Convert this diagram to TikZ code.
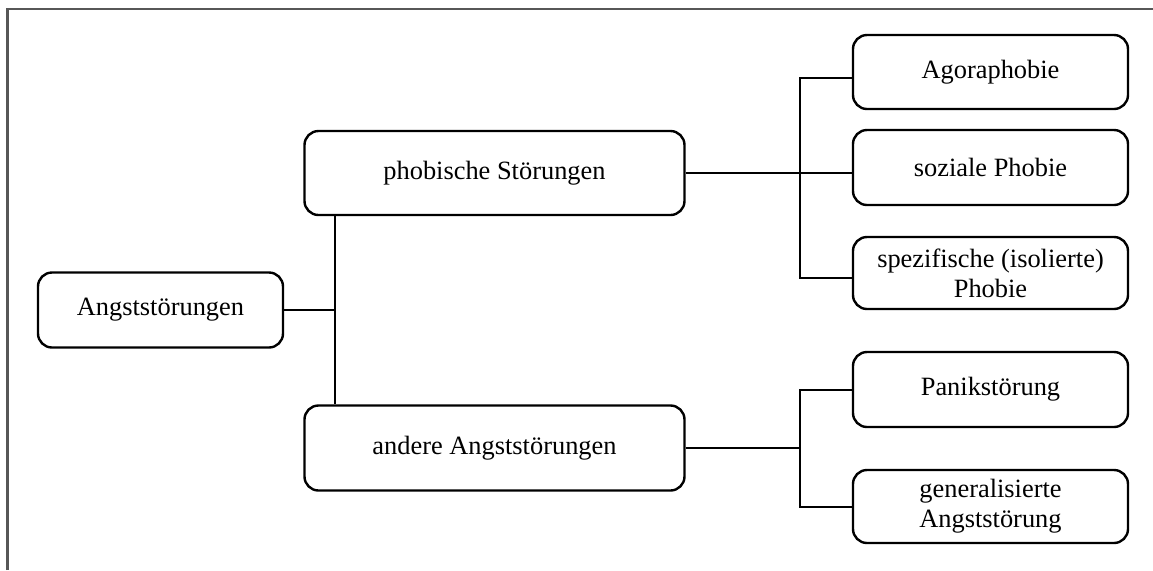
\documentclass[tikz,border=0pt]{standalone}
\usepackage{fontspec}
\setmainfont{Liberation Serif}
\begin{document}
\begin{tikzpicture}[x=0.5pt,y=-0.5pt,
  box/.style={draw=black,line width=1.2pt,rounded corners=7pt,inner sep=0pt,align=center,
    font=\fontsize{13.2}{15}\selectfont},
  conn/.style={draw=black,line width=1.2pt},
  frame/.style={draw=black!66,line width=1.15pt}]
\useasboundingbox (0,0) rectangle (1153,570);
\draw[frame] (7.5,570) -- (7.5,9) -- (1153,9);
\node[box,minimum width=122.5pt,minimum height=37.5pt] (angst) at (160.5,310) {Angststörungen};
\node[box,minimum width=190pt,minimum height=42pt] (phob) at (494.5,173) {phobische Störungen};
\node[box,minimum width=190pt,minimum height=42.5pt] (andere) at (494.5,448) {andere Angststörungen};
\node[box,minimum width=137.5pt,minimum height=37pt] (agora) at (990.5,72) {Agoraphobie};
\node[box,minimum width=137.5pt,minimum height=37.5pt] (sozial) at (990.5,167.5) {soziale Phobie};
\node[box,minimum width=137.5pt,minimum height=36pt] (spez) at (990.5,273) {spezifische (isolierte)\\Phobie};
\node[box,minimum width=137.5pt,minimum height=37.5pt] (panik) at (990.5,389.5) {Panikstörung};
\node[box,minimum width=137.5pt,minimum height=36.5pt] (gen) at (990.5,506.5) {generalisierte\\Angststörung};
\coordinate (j0) at (335,310);
\coordinate (j1) at (800,173);
\coordinate (j2) at (800,448);
\draw[conn] (angst.east) -- (angst.east -| j0);
\draw[conn] (phob.south -| j0) -- (andere.north -| j0);
\draw[conn] (phob.east) -- (phob.east -| j1);
\draw[conn] (agora.west |- 0,78) -| (j1) |- (spez.west |- 0,278);
\draw[conn] (j1) -- (sozial.west |- j1);
\draw[conn] (andere.east) -- (andere.east -| j2);
\draw[conn] (panik.west |- 0,390) -| (j2) |- (gen.west |- 0,507);
\end{tikzpicture}
\end{document}
